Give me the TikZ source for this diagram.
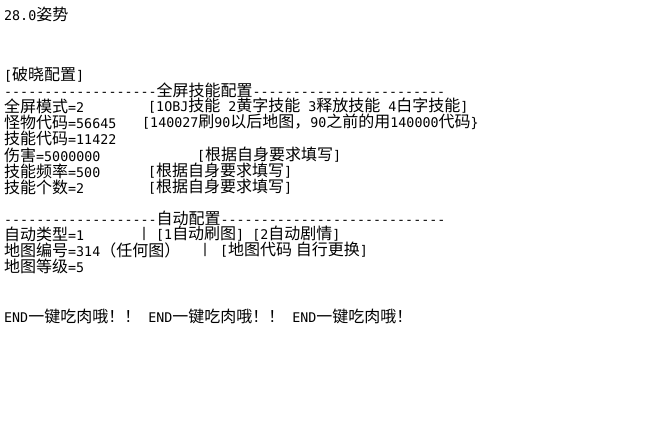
\documentclass[tikz,border=0pt]{standalone}
\usepackage{fontspec}
\setmainfont{DejaVu Sans Mono}[Ligatures=TeXOff]
\newfontfamily\cjkfont{Noto Sans CJK SC}[Scale=1.2]
\newcommand{\zh}[1]{{\cjkfont #1}}
\usetikzlibrary{positioning}

\begin{document}
\begin{tikzpicture}[x=1pt, y=-1pt, every node/.style={anchor=west, inner sep=0pt, font=\fontsize{13.33}{16}\selectfont}]
	\useasboundingbox (0,0) rectangle (651,424);
	% header
	\node (title) at (4,14) {28.0\zh{姿势}};
	\node (cfg) at (4,75) {[\zh{破晓配置}]};
	\node (rulea) at (4,90) {-------------------\zh{全屏技能配置}------------------------};
	% skill section
	\foreach \ypos/\lefttext/\xpos/\righttext in {
		106/\zh{全屏模式}=2/148/{[1OBJ\zh{技能} 2\zh{黄字技能} 3\zh{释放技能} 4\zh{白字技能}]},
		122/\zh{怪物代码}=56645/142/{[140027\zh{刷}90\zh{以后地图，}90\zh{之前的用}140000\zh{代码}\}},
		138/\zh{技能代码}=11422/142/{},
		155/\zh{伤害}=5000000/197/{[\zh{根据自身要求填写}]},
		171/\zh{技能频率}=500/148/{[\zh{根据自身要求填写}]},
		187/\zh{技能个数}=2/148/{[\zh{根据自身要求填写}]}} {
		\node (l\ypos) at (4,\ypos) {\lefttext};
		\node (r\ypos) at (\xpos,\ypos) {\righttext};
	}
	% auto section
	\node (ruleb) at (4,218) {-------------------\zh{自动配置}----------------------------};
	\node (type) at (4,234) {\zh{自动类型}=1};
	\node (typebar) at (140,234) {|};
	\node (typeopt) at (156,234) {[1\zh{自动刷图}] [2\zh{自动剧情}]};
	\node (map) at (4,250) {\zh{地图编号}=314\zh{（任何图）}};
	\node (mapbar) at (201,250) {|};
	\node (mapopt) at (220,250) {[\zh{地图代码 自行更换}]};
	\node (lvl) at (4,266) {\zh{地图等级}=5};
	\node (endline) at (4,316) {END\zh{一键吃肉哦！！} END\zh{一键吃肉哦！！} END\zh{一键吃肉哦！}};
\end{tikzpicture}
\end{document}
